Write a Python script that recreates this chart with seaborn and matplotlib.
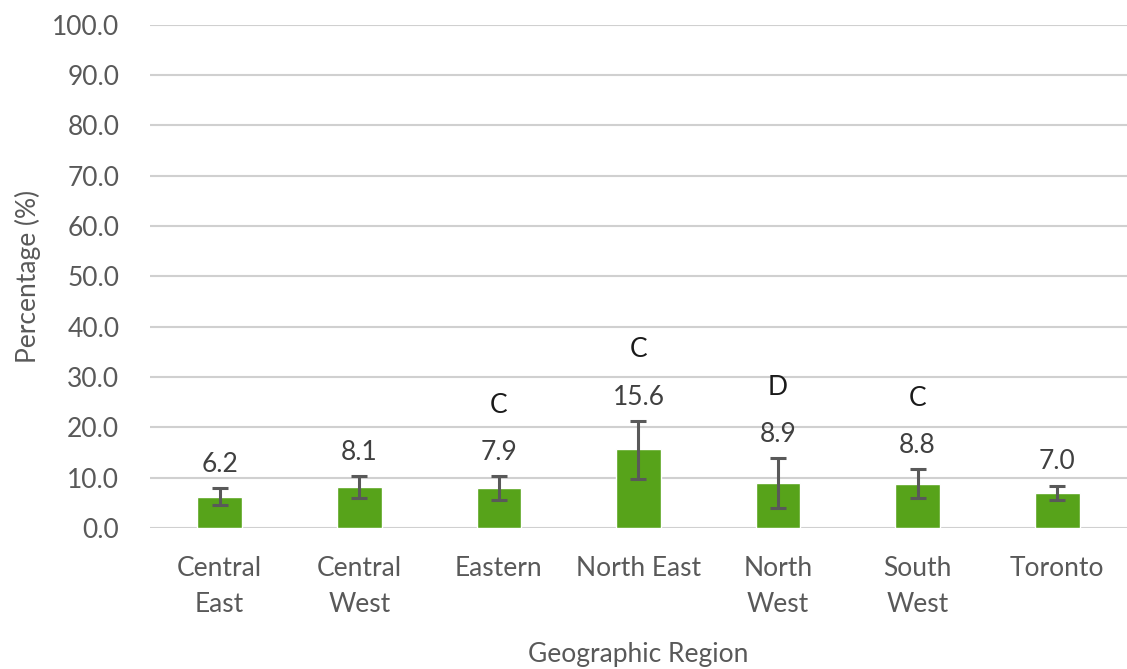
import matplotlib
matplotlib.use("Agg")
import matplotlib.pyplot as plt
import seaborn as sns
import numpy as np
import pandas as pd

regions = ["Central\nEast", "Central\nWest", "Eastern", "North East", "North\nWest", "South\nWest", "Toronto"]
values = [6.2, 8.1, 7.9, 15.6, 8.9, 8.8, 7.0]
ci_low = [4.6, 5.9, 5.6, 9.7, 3.9, 5.9, 5.6]
ci_high = [7.9, 10.3, 10.3, 21.3, 13.9, 11.7, 8.4]
flags = ["", "", "C", "C", "D", "C", ""]
yticks = [0, 10, 20, 30, 40, 50, 60, 70, 80, 90, 100]

sns.set_theme(style="white")
plt.rcParams['font.family'] = ['Lato', 'DejaVu Sans']

fig = plt.figure(figsize=(11.27, 6.69), dpi=100)
ax = fig.add_axes([0.133, 0.211, 0.867, 0.752])

df = pd.DataFrame({"region": regions, "value": values})
sns.barplot(data=df, x="region", y="value", color="#57a31a", saturation=1,
            width=0.32, errorbar=None, ax=ax, zorder=3)

x = np.arange(len(regions))
vals = np.array(values)
yerr = np.vstack([vals - np.array(ci_low), np.array(ci_high) - vals])
ax.errorbar(x, vals, yerr=yerr, fmt="none", ecolor="#595959", elinewidth=2.2,
            capsize=6, capthick=2.2, zorder=4)

for xi, v, hi, f in zip(x, values, ci_high, flags):
    ax.annotate(f"{v:.1f}", (xi, hi), xytext=(0, 17), textcoords="offset points",
                ha="center", va="center", fontsize=19, color="#404040")
    if f:
        ax.annotate(f, (xi, hi), xytext=(0, 51), textcoords="offset points",
                    ha="center", va="center", fontsize=19, color="#1a1a1a")

ax.set_ylim(0, 100)
ax.set_yticks(yticks)
ax.set_yticklabels([f"{t:.1f}" for t in yticks])
ax.set_xlim(-0.5, len(regions) - 0.5)
ax.yaxis.grid(True, color="#d0d0d0", linewidth=1.5, zorder=0)
ax.set_axisbelow(True)
for s in ax.spines.values():
    s.set_visible(False)
ax.tick_params(axis="both", length=0, labelsize=19, labelcolor="#595959")
ax.tick_params(axis="y", pad=22)
ax.tick_params(axis="x", pad=20)
for lbl in ax.get_xticklabels():
    lbl.set_linespacing(1.55)
ax.set_xlabel("Geographic Region", fontsize=19, color="#595959", labelpad=18)
ax.set_ylabel("Percentage (%)", fontsize=19, color="#595959", labelpad=8)

fig.savefig("out.png", dpi=100)
